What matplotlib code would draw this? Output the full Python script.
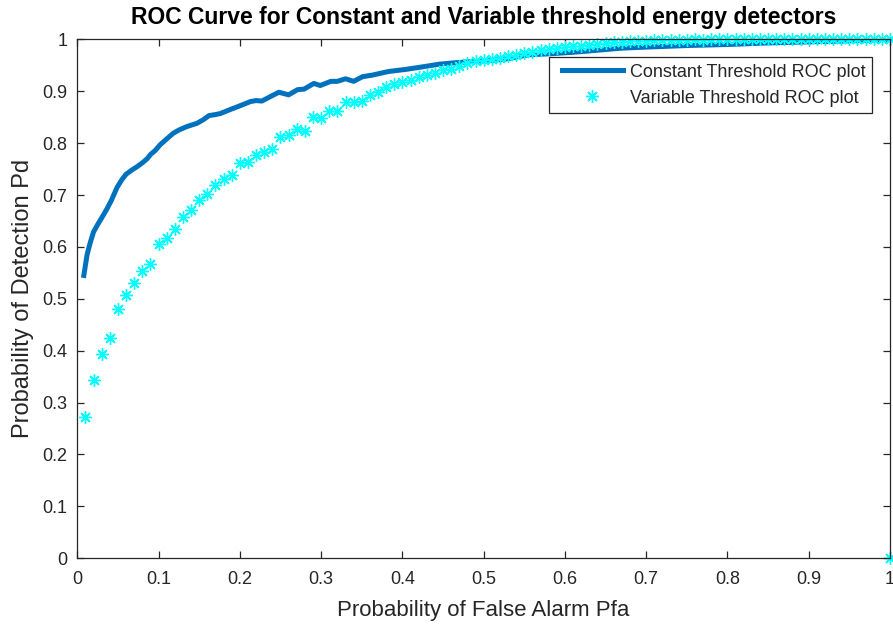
import matplotlib
matplotlib.use("Agg")
import matplotlib.pyplot as plt
from matplotlib.ticker import FormatStrFormatter
from matplotlib.legend_handler import HandlerLine2D

plt.rcParams['font.family'] = ['Liberation Sans', 'DejaVu Sans']

# Constant threshold ROC
pfa_const = [0.008, 0.012, 0.016, 0.020, 0.025, 0.030, 0.036, 0.042, 0.049, 0.055,
             0.060, 0.066, 0.073, 0.080, 0.086, 0.090, 0.096, 0.102, 0.110, 0.118,
             0.126, 0.135, 0.147, 0.155, 0.162, 0.170, 0.176, 0.187, 0.197, 0.205,
             0.213, 0.220, 0.227, 0.238, 0.248, 0.260, 0.271, 0.279, 0.291, 0.299,
             0.312, 0.320, 0.330, 0.340, 0.351, 0.363, 0.383, 0.404, 0.425, 0.445,
             0.466, 0.486, 0.507, 0.527, 0.554, 0.58, 0.61, 0.64, 0.67, 0.70,
             0.75, 0.80, 0.85, 0.90, 0.95, 1.0]
pd_const = [0.545, 0.585, 0.609, 0.629, 0.643, 0.656, 0.672, 0.690, 0.715, 0.730,
            0.740, 0.747, 0.754, 0.762, 0.770, 0.778, 0.786, 0.797, 0.808, 0.819,
            0.826, 0.832, 0.838, 0.845, 0.853, 0.855, 0.857, 0.864, 0.870, 0.875,
            0.880, 0.882, 0.881, 0.890, 0.898, 0.893, 0.903, 0.904, 0.915, 0.911,
            0.919, 0.919, 0.924, 0.919, 0.928, 0.931, 0.938, 0.942, 0.947, 0.952,
            0.955, 0.957, 0.959, 0.962, 0.970, 0.972, 0.975, 0.979, 0.983, 0.985,
            0.988, 0.990, 0.993, 0.995, 0.997, 1.0]

# Variable threshold ROC, Pfa = 0.01 ... 1.00, plus the stray point at (1, 0)
pfa_var = [round(0.01 * k, 2) for k in range(1, 101)] + [1.0]
pd_var = [0.273, 0.343, 0.393, 0.425, 0.480, 0.508, 0.530, 0.553, 0.568, 0.606,
          0.617, 0.635, 0.658, 0.672, 0.691, 0.701, 0.719, 0.730, 0.738, 0.762,
          0.764, 0.778, 0.783, 0.788, 0.812, 0.815, 0.828, 0.823, 0.851, 0.848,
          0.861, 0.862, 0.879, 0.880, 0.881, 0.893, 0.898, 0.908, 0.913, 0.918,
          0.922, 0.928, 0.932, 0.936, 0.940, 0.943, 0.949, 0.954, 0.958, 0.960,
          0.962, 0.964, 0.967, 0.970, 0.974, 0.976, 0.979, 0.981, 0.983, 0.985,
          0.987, 0.988, 0.990, 0.991, 0.992, 0.994, 0.995, 0.996, 0.997, 0.997,
          0.998, 0.998, 0.999, 0.999, 0.999, 1.0, 0.999, 1.0, 1.0, 1.0,
          1.0, 1.0, 1.0, 1.0, 1.0, 1.0, 1.0, 1.0, 1.0, 1.0,
          1.0, 1.0, 1.0, 1.0, 1.0, 1.0, 1.0, 1.0, 1.0, 1.0,
          0.0]

ticks = [0, 0.1, 0.2, 0.3, 0.4, 0.5, 0.6, 0.7, 0.8, 0.9, 1]
txt = '#262626'

fig = plt.figure(figsize=(8.93, 6.27), dpi=100)
ax = fig.add_axes([0.0866, 0.1096, 0.9100, 0.8277])

l1, = ax.plot(pfa_const, pd_const, color='#0072BD', lw=3.6,
              solid_joinstyle='round', label='Constant Threshold ROC plot')
l2, = ax.plot(pfa_var, pd_var, linestyle='none', marker=(8, 2, 0), ms=9, mew=1.0,
              color='cyan', clip_on=False, label='Variable Threshold ROC plot')

ax.set_xlim(0, 1)
ax.set_ylim(0, 1)
ax.set_xticks(ticks)
ax.set_yticks(ticks)
ax.xaxis.set_major_formatter(FormatStrFormatter('%g'))
ax.yaxis.set_major_formatter(FormatStrFormatter('%g'))
ax.tick_params(direction='in', length=5, width=0.9, colors=txt,
               labelsize=13, top=True, right=True)
ax.tick_params(axis='x', pad=9)
ax.tick_params(axis='y', pad=7)
for s in ax.spines.values():
    s.set_color(txt)
    s.set_linewidth(0.9)

ax.set_title('ROC Curve for Constant and Variable threshold energy detectors',
             fontsize=16.5, fontweight='bold', color='black', pad=11)
ax.set_xlabel('Probability of False Alarm Pfa', fontsize=16, color=txt, labelpad=9)
ax.set_ylabel('Probability of Detection Pd', fontsize=17, color=txt, labelpad=6)

# shorter handle line with extra space on its left, like the MATLAB legend
hmap = {l1: HandlerLine2D(xpad=0.4), l2: HandlerLine2D(xpad=0.4)}
leg = ax.legend(loc='upper right', fontsize=13, fancybox=False, framealpha=1,
                edgecolor=txt, borderaxespad=1.0, handlelength=3.75,
                handletextpad=0.4, borderpad=0.35, labelspacing=0.5,
                handler_map=hmap)
leg.get_frame().set_linewidth(0.9)
for t in leg.get_texts():
    t.set_color(txt)

plt.savefig("out.png", dpi=100)
